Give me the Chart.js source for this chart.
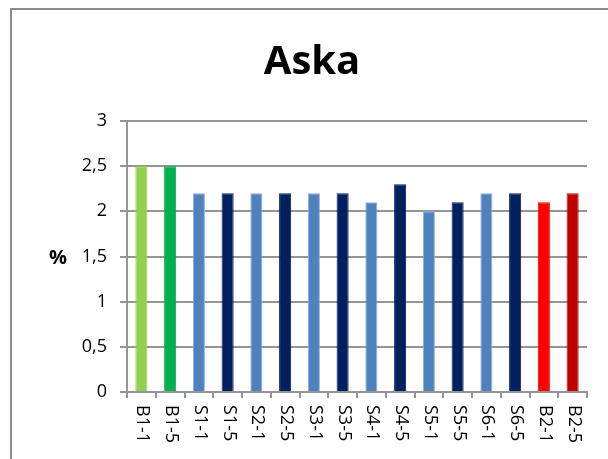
<!DOCTYPE html>
<html>
<head>
<meta charset="utf-8">
<script src="https://cdn.jsdelivr.net/npm/chart.js@4"></script>
<style>
  html, body { margin: 0; padding: 0; background: #fff; }
  #wrap { width: 608px; height: 459px; position: relative; }
</style>
</head>
<body>
<div id="wrap"><canvas id="c" width="608" height="459"></canvas></div>
<script>
const categories = ["B1-1","B1-5","S1-1","S1-5","S2-1","S2-5","S3-1","S3-5","S4-1","S4-5","S5-1","S5-5","S6-1","S6-5","B2-1","B2-5"];
const values = [2.5, 2.5, 2.2, 2.2, 2.2, 2.2, 2.2, 2.2, 2.1, 2.3, 2.0, 2.1, 2.2, 2.2, 2.1, 2.2];
const yTicks = [0, 0.5, 1, 1.5, 2, 2.5, 3];
const chartTitle = "Aska";
const yLabel = "%";

const barColors = ["#92D050","#00B050","#4F81BD","#002060","#4F81BD","#002060","#4F81BD","#002060","#4F81BD","#002060","#4F81BD","#002060","#4F81BD","#002060","#FF0000","#C00000"];
const barBorders = barColors.map(c => c === "#4F81BD" ? "#8FB0D8" : c);

const FONT = "'Open Sans', 'Liberation Sans', sans-serif";
const GRID = "#959595";

const decor = {
  id: 'decor',
  beforeDraw(chart) {
    const ctx = chart.ctx;
    ctx.save();
    ctx.fillStyle = '#fff';
    ctx.fillRect(0, 0, chart.width, chart.height);
    ctx.strokeStyle = '#8c8c8c';
    ctx.lineWidth = 2;
    ctx.beginPath();
    ctx.moveTo(11, 459);
    ctx.lineTo(11, 9);
    ctx.lineTo(608, 9);
    ctx.stroke();
    ctx.restore();
  },
  afterDraw(chart) {
    const ctx = chart.ctx;
    const xs = chart.scales.x;
    ctx.save();
    ctx.fillStyle = '#000';
    ctx.font = "bold 40px " + FONT;
    ctx.textAlign = 'center';
    ctx.textBaseline = 'alphabetic';
    ctx.fillText(chartTitle, 312, 74);
    ctx.font = "bold 20px " + FONT;
    ctx.textAlign = 'center';
    ctx.textBaseline = 'middle';
    ctx.fillText(yLabel, 58, 258);
    ctx.font = "18px " + FONT;
    ctx.textAlign = 'left';
    ctx.textBaseline = 'middle';
    categories.forEach((lab, i) => {
      const x = xs.getPixelForValue(i);
      ctx.save();
      ctx.translate(x + 1, 405);
      ctx.rotate(Math.PI / 2);
      ctx.fillText(lab, 0, 0);
      ctx.restore();
    });
    ctx.restore();
  }
};

new Chart(document.getElementById('c'), {
  type: 'bar',
  data: {
    labels: categories,
    datasets: [{
      data: values,
      backgroundColor: barColors,
      borderColor: barBorders,
      borderWidth: 1,
      barPercentage: 0.42,
      categoryPercentage: 1
    }]
  },
  options: {
    responsive: false,
    animation: false,
    devicePixelRatio: 1,
    layout: { padding: { top: 121, right: 21, bottom: 0, left: 0 } },
    plugins: {
      legend: { display: false },
      title: { display: false },
      tooltip: { enabled: false }
    },
    scales: {
      x: {
        offset: true,
        grid: {
          offset: true,
          drawOnChartArea: false,
          drawTicks: true,
          tickLength: 6,
          color: GRID,
          lineWidth: 2
        },
        border: { display: true, color: GRID, width: 2 },
        ticks: { display: false },
        afterFit(s) { s.height = 67; }
      },
      y: {
        min: 0,
        max: 3,
        afterBuildTicks(s) { s.ticks = yTicks.map(v => ({ value: v })); },
        ticks: {
          font: { family: FONT, size: 18 },
          color: '#000',
          padding: 13,
          callback: v => String(v).replace('.', ',')
        },
        grid: {
          color: GRID,
          lineWidth: 2,
          drawTicks: true,
          tickLength: 7
        },
        border: { display: true, color: GRID, width: 2 },
        afterFit(s) { s.width = 127; }
      }
    }
  },
  plugins: [decor]
});
</script>
</body>
</html>
